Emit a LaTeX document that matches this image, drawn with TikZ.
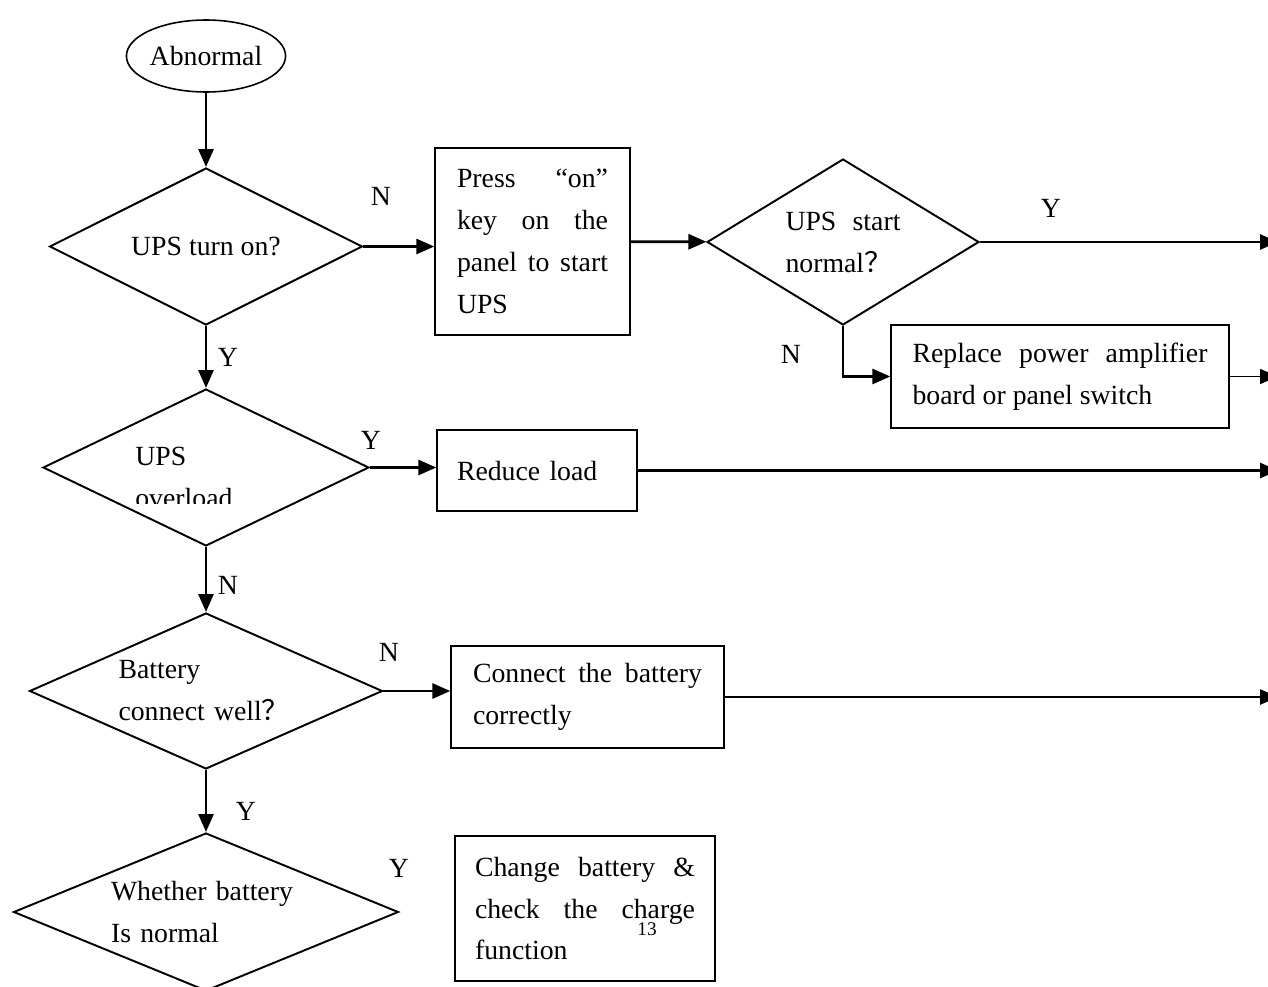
\documentclass[tikz,border=0pt]{standalone}
\usepackage{fontspec}
\setmainfont{Liberation Serif}
\newfontfamily\cjk{Noto Sans CJK SC}
\usetikzlibrary{shapes.geometric, arrows.meta}
\setlength{\parindent}{0pt}
\tikzstyle{arrow} = [line width=1.6pt, -{Triangle[length=0.36cm,width=0.3cm]}]

\begin{document}
\begin{tikzpicture}[x=0.02cm, y=-0.02cm, font=\fontsize{15.8}{23.9}\selectfont]
        \tikzstyle{block} = [rectangle, draw, line width=0.8pt, inner sep=0pt, align=justify]
        \tikzstyle{decision} = [diamond, draw, line width=1.1pt, aspect=2, inner sep=0pt]
        \tikzstyle{yn} = [inner sep=0pt]

        \clip (0,0) rectangle (1268,987);
        \fill[white] (0,0) rectangle (1268,987);

        \node [ellipse, draw, line width=0.9pt, minimum width=3.18cm, minimum height=1.44cm,
            inner sep=0pt] (abnormal) at (206,56) {Abnormal};

        \node [decision, minimum width=6.26cm, minimum height=3.14cm] (turnon) at (206,246.5) {UPS turn on?};
        \node [block, text width=3.02cm, minimum width=3.9cm, minimum height=3.74cm] (presson) at (532.5,241.5)
            {Press\hfill “on”\\key\hfill on\hfill the\\panel\hfill to\hfill start\\UPS};
        \node [decision, minimum width=5.44cm, minimum height=3.32cm, text width=2.3cm, align=justify]
            (startok) at (843,242) {UPS\hfill start\\normal\cjk{？}};
        \node [block, text width=5.9cm, minimum width=6.76cm, minimum height=2.06cm] (replace) at (1060,376.5)
            {Replace\hfill power\hfill amplifier\\board or panel switch};

        \node [decision, minimum width=6.52cm, minimum height=3.14cm] (overload) at (206,467.5) {};
        \begin{scope}
            \clip (100,430) rectangle (300,503);
            \node [anchor=west, inner sep=0pt, align=left] (overloadtxt) at (135,477) {UPS\\overload};
        \end{scope}
        \node [block, text width=3.2cm, minimum width=4cm, minimum height=1.62cm, align=left] (reduce) at (537,470.5)
            {Reduce load};

        \node [decision, minimum width=7.06cm, minimum height=3.12cm, text width=3.5cm, align=left]
            (battok) at (206,691) {Battery\\connect well\cjk{？}};
        \node [block, text width=4.58cm, minimum width=5.46cm, minimum height=2.04cm] (connect) at (587.5,697)
            {Connect\hfill the\hfill battery\\correctly};

        \node [decision, minimum width=7.7cm, minimum height=3.16cm, text width=3.8cm, align=left]
            (battnormal) at (206,912) {Whether battery\\Is normal};
        \node [block, text width=4.4cm, minimum width=5.2cm, minimum height=2.9cm] (change) at (585,908.5)
            {Change\hfill battery\hfill\&\\check\hfill the\hfill charge\\function};
        \node [inner sep=0pt, font=\fontsize{11}{12}\selectfont] (pagenum) at (647,929) {13};

        % Y / N marks
        \node [yn] (n1) at (381,196) {N};
        \node [yn] (y1) at (1051,208) {Y};
        \node [yn] (n2) at (791,354) {N};
        \node [yn] (y2) at (228,357) {Y};
        \node [yn] (y3) at (371,440) {Y};
        \node [yn] (n3) at (228,585) {N};
        \node [yn] (n4) at (389,652) {N};
        \node [yn] (y4) at (246,811) {Y};
        \node [yn] (y5) at (399,868) {Y};

        % ends leaving the page
        \coordinate (out1) at (1278,242);
        \coordinate (out2) at (1278,376.5);
        \coordinate (out3) at (1278,470.5);
        \coordinate (out4) at (1278,697);

        \draw [arrow] (abnormal.south) -- (turnon.north);
        \draw [arrow] (turnon.east) -- (turnon.east -| presson.west);
        \draw [arrow] (presson) -- (startok);
        \draw [arrow] (startok.east) -- (out1);
        \draw [arrow] (startok.south) |- (replace.west);
        \draw [arrow, line width=0.8pt] (replace.east) -- (out2);

        \draw [arrow] (turnon.south) -- (overload.north);
        \draw [arrow] (overload.east) -- (overload.east -| reduce.west);
        \draw [arrow] (reduce.east) -- (out3);

        \draw [arrow] (overload.south) -- (battok.north);
        \draw [arrow] (battok.east) -- (battok.east -| connect.west);
        \draw [arrow] (connect.east) -- (out4);

        \draw [arrow] (battok.south) -- (battnormal.north);
    \end{tikzpicture}
\end{document}
